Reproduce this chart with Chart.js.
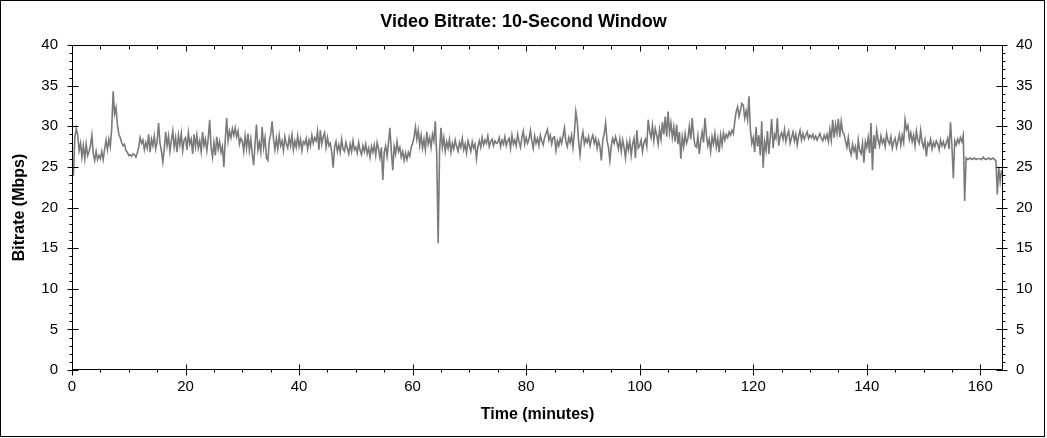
<!DOCTYPE html>
<html>
<head>
<meta charset="utf-8">
<title>Video Bitrate: 10-Second Window</title>
<script src="https://cdn.jsdelivr.net/npm/chart.js@4.4.1/dist/chart.umd.min.js"></script>
<style>
    html, body { margin: 0; padding: 0; background: #fff; }
    #wrap { position: relative; width: 1047px; height: 438px; }
    #frame { position: absolute; left: 0; top: 0; width: 1045px; height: 437px; border: 1px solid #000; box-sizing: border-box; pointer-events: none; }
</style>
</head>
<body>
<div id="wrap">
    <canvas id="bitrateChart" width="1047" height="438"></canvas>
    <div id="frame"></div>
</div>
<script>
// One sample every 15 seconds (Mbps)
const sampleMinutes = 0.25;

// 0 - 40 min
const bitrateA = [
    25.8, 23.9, 28.6, 29.7, 28.9, 27.0, 27.9, 26.2, 27.6, 26.0, 27.8, 26.4, 26.9, 27.6, 28.9, 26.6, 25.8, 26.9, 25.9, 26.4,
    26.0, 26.9, 25.9, 27.2, 28.3, 27.1, 28.4, 27.5, 29.8, 34.3, 31.5, 32.3, 30.2, 29.0, 28.6, 28.0, 27.6, 27.8, 27.0, 26.8,
    26.4, 26.5, 26.3, 26.6, 26.5, 26.2, 26.7, 27.4, 28.6, 27.9, 28.3, 27.1, 28.0, 27.3, 29.0, 26.8, 28.4, 27.6, 28.8, 27.2,
    28.1, 30.4, 27.9, 27.0, 25.6, 27.2, 29.3, 27.6, 28.8, 26.9, 28.2, 29.4, 27.4, 28.6, 26.8, 28.9, 27.7, 29.1, 27.0, 28.3,
    28.6, 27.1, 29.2, 27.8, 28.4, 26.6, 29.0, 27.5, 28.9, 27.3, 28.2, 26.9, 29.3, 27.6, 28.4, 27.0, 28.5, 30.8, 27.4, 26.2,
    28.0, 26.4, 28.7, 27.2, 28.1, 26.8, 27.5, 25.0, 28.3, 31.0, 28.2, 29.4, 28.6, 29.7, 28.9, 29.8, 28.7, 29.4, 27.8, 28.5,
    28.2, 26.9, 28.8, 27.3, 29.1, 27.0, 28.4, 26.6, 25.2, 27.9, 30.2, 27.1, 28.0, 26.8, 29.9, 27.4, 28.6, 26.1, 25.8, 28.2,
    29.0, 30.6, 28.4, 27.1, 28.5, 27.2, 28.9, 27.6, 28.2, 27.0, 28.7, 27.8, 27.3, 28.6, 27.6, 28.9, 27.1, 28.2, 27.4, 28.8
];

// 40 - 80 min
const bitrateB = [
    27.5, 28.4, 27.0, 28.1, 27.8, 28.5, 27.2, 28.3, 27.6, 28.9, 27.9, 28.6, 28.2, 29.4, 27.1, 29.5, 27.8, 28.7, 29.2, 27.4,
    28.6, 27.6, 27.9, 26.8, 24.9, 27.4, 28.1, 26.9, 27.7, 26.8, 28.4, 27.2, 26.9, 28.0, 27.3, 26.6, 27.8, 26.9, 28.2, 27.1,
    27.4, 26.7, 28.0, 27.0, 26.5, 27.6, 26.9, 27.8, 26.6, 27.3, 26.2, 27.5, 26.8, 27.7, 26.4, 28.0, 27.2, 26.1, 27.4, 23.4,
    26.8, 27.6, 26.3, 27.9, 29.8, 27.0, 24.6, 27.5, 26.6, 28.1, 26.9, 27.4, 26.2, 26.9, 25.8, 26.7, 25.9, 26.8, 26.3, 27.4,
    27.9, 28.6, 29.9, 28.4, 29.5, 27.6, 28.9, 27.3, 28.4, 27.1, 29.3, 27.8, 28.6, 27.4, 29.0, 28.2, 30.6, 26.5, 15.6, 27.0,
    29.8, 27.4, 28.6, 26.9, 28.1, 27.3, 28.4, 26.8, 27.9, 27.2, 28.3, 27.5, 26.9, 28.0, 27.4, 28.5, 27.1, 27.8, 26.7, 28.2,
    27.6, 26.9, 28.1, 27.3, 27.8, 26.0, 27.5, 28.2, 27.4, 28.6, 27.7, 28.3, 27.9, 28.8, 27.5, 28.1, 28.4, 27.6, 28.2, 27.9,
    28.0, 28.6, 27.5, 28.3, 27.8, 28.7, 27.6, 28.2, 28.5, 27.3, 28.9, 27.8, 28.3, 27.6, 29.0, 28.1, 27.4, 28.6, 29.4, 27.8
];

// 80 - 120 min
const bitrateC = [
    28.6, 27.9, 28.4, 29.5, 28.2, 27.3, 28.8, 27.9, 28.5, 27.6, 28.9, 28.2, 27.7, 28.6, 29.1, 29.6, 28.3, 28.9, 27.8, 28.6,
    28.7, 27.0, 28.2, 27.6, 28.5, 27.9, 28.8, 29.8, 28.1, 27.5, 28.6, 28.0, 28.9, 27.4, 29.2, 31.8, 30.6, 28.1, 26.5, 28.4,
    29.3, 27.8, 28.5, 28.0, 28.7, 27.6, 28.4, 28.9, 27.9, 28.5, 27.3, 28.2, 27.5, 25.8, 28.3, 29.1, 30.4, 28.2, 27.4, 25.8,
    27.6, 28.5, 27.9, 28.7, 28.0, 27.2, 28.4, 26.9, 28.3, 27.4, 26.1, 28.0, 27.1, 28.2, 26.4, 27.8, 28.5, 26.1, 29.5, 27.3,
    27.6, 28.3, 26.9, 28.0, 28.4, 27.5, 30.8, 29.4, 28.6, 30.1, 28.2, 29.7, 28.9, 27.8, 29.6, 28.4, 30.5, 29.0, 31.2, 28.7,
    31.8, 29.2, 30.4, 28.6, 29.9, 28.1, 30.2, 27.8, 29.3, 26.0, 28.7, 27.5, 29.1, 27.9, 28.5, 30.0, 28.4, 31.0, 28.8, 27.6,
    27.4, 28.8, 26.6, 28.2, 29.3, 28.0, 31.0, 28.9, 27.6, 28.4, 26.9, 28.7, 27.8, 29.1, 27.4, 28.5, 26.8, 28.9, 27.7, 29.2,
    28.3, 29.0, 28.6, 29.3, 28.9, 29.5, 29.1, 30.6, 31.8, 32.4, 31.2, 32.0, 32.8, 32.6, 31.0, 31.9, 30.8, 33.7, 29.6, 27.9
];

// 120 - 164 min
const bitrateD = [
    28.6, 26.8, 29.9, 27.5, 28.9, 26.4, 30.6, 24.9, 28.1, 27.0, 29.4, 26.6, 28.7, 30.9, 27.3, 29.0, 28.5, 31.0, 27.6, 28.8,
    29.2, 28.4, 29.6, 28.1, 28.9, 29.4, 27.9, 28.6, 29.3, 28.2, 29.0, 27.7, 28.8, 29.5, 28.3, 29.1, 28.4, 28.9, 29.3, 28.5,
    28.9, 28.6, 29.0, 28.4, 28.8, 28.3, 28.7, 29.1, 28.5, 28.2, 28.9, 28.4, 29.0, 28.1, 29.6, 28.3, 30.8, 28.6, 30.2, 29.1,
    30.9, 28.7, 30.6, 29.3, 29.0, 28.2, 27.4, 28.6, 27.1, 26.5, 27.8, 26.9, 27.5, 25.9, 28.3, 27.0, 26.6, 27.9, 25.5, 28.1,
    27.4, 28.6, 26.7, 30.4, 24.6, 28.9, 27.2, 29.5, 28.3, 27.6, 28.8, 27.9, 28.4, 27.5, 29.1, 28.2, 27.8, 28.7, 27.3, 28.1,
    28.5, 27.4, 28.2, 29.0, 27.7, 28.9, 28.0, 30.8, 29.6, 30.1, 28.4, 29.2, 28.1, 28.9, 27.6, 29.4, 28.3, 27.9, 29.5, 28.0,
    27.4, 28.3, 26.3, 27.9, 27.6, 28.4, 27.2, 28.0, 27.5, 28.2, 27.8, 27.1, 28.3, 27.6, 28.1, 27.4, 27.9, 28.5, 27.2, 30.5,
    27.6, 23.6, 28.2, 27.7, 28.4, 27.9, 28.6, 28.1, 28.9, 20.8, 26.1, 25.9, 26.0, 26.1, 25.9, 26.0, 26.1, 25.9, 26.0, 26.0,
    26.0, 25.9, 26.2, 26.0, 25.9, 26.0, 26.1, 25.9, 26.0, 26.1, 25.9, 25.8, 21.6, 25.0, 23.2, 24.6
];

const timeTicks = [0, 20, 40, 60, 80, 100, 120, 140, 160];
const timeMax = 164;
const timeMajorStep = 20;
const timeMinorStep = 5;
const rateMax = 40;
const rateMajorStep = 5;
const rateMinorStep = 1;

const bitrate = [].concat(bitrateA, bitrateB, bitrateC, bitrateD);
const points = bitrate.map((v, i) => ({ x: i * sampleMinutes, y: v }));

const fontFamily = '"Liberation Sans", Arial, sans-serif';

// Frame round the plot plus the little tick marks on all four sides
const frameTicks = {
    id: 'frameTicks',
    afterDraw(chart) {
        const { ctx, chartArea, scales } = chart;
        const { left, right, top, bottom } = chartArea;
        ctx.save();
        ctx.strokeStyle = '#000';
        ctx.lineWidth = 1;
        ctx.beginPath();
        ctx.rect(Math.round(left) + 0.5, Math.round(top) + 0.5,
                 Math.round(right) - Math.round(left) - 1, Math.round(bottom) - Math.round(top) - 1);

        const l = Math.round(left) + 0.5, r = Math.round(right) - 0.5;
        const b = Math.round(bottom) - 0.5, t = Math.round(top) + 0.5;

        for (let v = 0; v <= rateMax; v += rateMinorStep) {
            const py = Math.round(scales.y.getPixelForValue(v)) + 0.5;
            if (v % rateMajorStep === 0) {
                ctx.moveTo(l - 5, py); ctx.lineTo(l + 6, py);
                ctx.moveTo(r - 6, py); ctx.lineTo(r + 5, py);
            } else {
                ctx.moveTo(l - 3, py); ctx.lineTo(l, py);
                ctx.moveTo(r, py); ctx.lineTo(r + 3, py);
            }
        }
        for (let v = 0; v <= timeMax; v += timeMinorStep) {
            const px = Math.round(scales.x.getPixelForValue(v)) + 0.5;
            if (v % timeMajorStep === 0) {
                ctx.moveTo(px, b - 5); ctx.lineTo(px, b + 6);
                ctx.moveTo(px, t); ctx.lineTo(px, t + 6);
            } else {
                ctx.moveTo(px, b); ctx.lineTo(px, b + 3);
                ctx.moveTo(px, t); ctx.lineTo(px, t + 4);
            }
        }
        ctx.stroke();
        ctx.restore();
    }
};

const tickFont = { family: fontFamily, size: 15 };
const titleFont = { family: fontFamily, size: 16, weight: 'bold' };

new Chart(document.getElementById('bitrateChart'), {
    type: 'line',
    data: {
        datasets: [{
            label: 'Video Bitrate',
            data: points,
            borderColor: '#7a7a7a',
            borderWidth: 1.6,
            pointRadius: 0,
            tension: 0,
            fill: false
        }]
    },
    options: {
        responsive: false,
        animation: false,
        devicePixelRatio: 1,
        layout: { padding: 0 },
        plugins: {
            legend: { display: false },
            tooltip: { enabled: false },
            title: {
                display: true,
                text: 'Video Bitrate: 10-Second Window',
                color: '#000',
                font: { family: fontFamily, size: 18, weight: 'bold' },
                padding: { top: 11.7, bottom: 11.7 }
            }
        },
        scales: {
            x: {
                type: 'linear',
                position: 'bottom',
                min: 0,
                max: timeMax,
                grid: { display: false, drawTicks: false },
                border: { display: false },
                ticks: { color: '#000', font: tickFont, padding: 8, maxRotation: 0, autoSkip: false },
                afterBuildTicks: s => { s.ticks = timeTicks.map(v => ({ value: v })); },
                afterFit: s => { s.height = 68; },
                title: { display: true, text: 'Time (minutes)', color: '#000', font: titleFont, padding: { top: 0, bottom: 13.4 } }
            },
            y: {
                position: 'left',
                min: 0,
                max: rateMax,
                grid: { display: false, drawTicks: false },
                border: { display: false },
                ticks: { stepSize: rateMajorStep, color: '#000', font: tickFont, padding: 14 },
                afterFit: s => { s.width = 72; },
                title: { display: true, text: 'Bitrate (Mbps)', color: '#000', font: titleFont, padding: { top: 9.9, bottom: 0 } }
            },
            y2: {
                position: 'right',
                min: 0,
                max: rateMax,
                grid: { display: false, drawTicks: false },
                border: { display: false },
                ticks: { stepSize: rateMajorStep, color: '#000', font: tickFont, padding: 13 },
                afterFit: s => { s.width = 44; }
            }
        }
    },
    plugins: [frameTicks]
});
</script>
</body>
</html>
